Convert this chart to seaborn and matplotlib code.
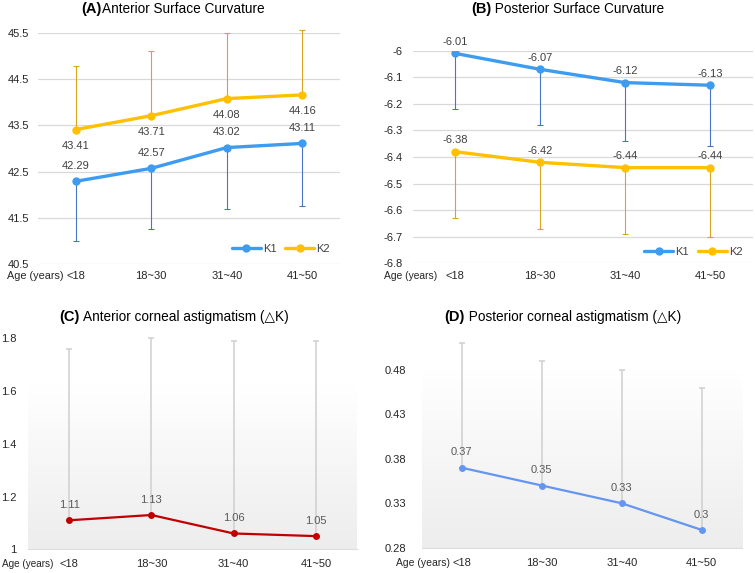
import matplotlib
matplotlib.use("Agg")
import matplotlib.pyplot as plt
import seaborn as sns
import numpy as np
import pandas as pd

ages = ["<18", "18~30", "31~40", "41~50"]

ant_k1 = [42.29, 42.57, 43.02, 43.11]
ant_k1_sd = [1.29, 1.31, 1.33, 1.35]
ant_k2 = [43.41, 43.71, 44.08, 44.16]
ant_k2_sd = [1.38, 1.41, 1.41, 1.40]

post_k1 = [-6.01, -6.07, -6.12, -6.13]
post_k1_sd = [0.21, 0.21, 0.22, 0.23]
post_k2 = [-6.38, -6.42, -6.44, -6.44]
post_k2_sd = [0.25, 0.25, 0.25, 0.26]

ant_dk = [1.11, 1.13, 1.06, 1.05]
ant_dk_sd = [0.65, 0.67, 0.73, 0.74]
post_dk = [0.37, 0.35, 0.33, 0.30]
post_dk_sd = [0.14, 0.14, 0.15, 0.16]

sns.set_style("white")
plt.rcParams["font.family"] = ["Liberation Sans", "DejaVu Sans"]

W, H = 755, 573
fig = plt.figure(figsize=(W / 100, H / 100), dpi=100)


def box(left, right, top, bottom):
    return [left / W, 1 - bottom / H, (right - left) / W, (bottom - top) / H]


BLUE = "#3d9cf0"
GOLD = "#ffc000"
LBL = "#404040"
TXT = "#262626"


def style_axes(ax, ylim, yticks, fmt, ypad, xpad, grid=True):
    ax.set_xlim(-0.5, 3.5)
    ax.set_ylim(*ylim)
    ax.set_yticks(yticks)
    ax.set_yticklabels([fmt(v) for v in yticks])
    ax.set_xticks(range(4))
    ax.set_xticklabels(ages)
    ax.tick_params(length=0, labelsize=8, colors=TXT)
    ax.tick_params(axis="x", pad=xpad)
    ax.tick_params(axis="y", pad=ypad)
    for s in ax.spines.values():
        s.set_visible(False)
    if grid:
        ax.yaxis.grid(True, color="#d9d9d9", lw=0.9)
    else:
        ax.spines["bottom"].set_visible(True)
        ax.spines["bottom"].set_color("#dcdcdc")
        ax.spines["bottom"].set_linewidth(0.8)
    ax.set_axisbelow(True)
    ax.set_xlabel("")
    ax.set_ylabel("")


def age_label(ax, x, size):
    # left edge in figure pixels, vertically in line with the x tick labels
    tl = ax.get_xticklabels()[0]
    fig.canvas.draw()
    bb = tl.get_window_extent()
    yc = (bb.y0 + bb.y1) / 2 / fig.bbox.height
    fig.text(x / W, yc, "Age (years)", fontsize=size, color=TXT,
             ha="left", va="center")


def gradient(ax, top):
    grad = np.linspace(0, 1, 200).reshape(-1, 1)
    cmap = matplotlib.colors.LinearSegmentedColormap.from_list("g", ["#ffffff", "#ededed"])
    ax.imshow(grad, extent=(0, 1, 0, top), transform=ax.transAxes, aspect="auto",
              cmap=cmap, vmin=0, vmax=1, zorder=0)


def labels(ax, vals, dy, color, fmt):
    for i, v in enumerate(vals):
        ax.annotate(fmt(v), (i, v), xytext=(0, dy), textcoords="offset points",
                    ha="center", va="center", fontsize=8, color=color)


# (A) anterior surface curvature
axA = fig.add_axes(box(38, 340, 33, 264))
dfA = pd.DataFrame({"age": ages * 2, "val": ant_k1 + ant_k2,
                    "k": ["K1"] * 4 + ["K2"] * 4})
axA.errorbar(range(4), ant_k1, yerr=[ant_k1_sd, [0] * 4], fmt="none",
             ecolor="#4a74c4", elinewidth=0.8, capsize=2, capthick=0.8, clip_on=False)
axA.errorbar(range(4), ant_k2, yerr=[[0] * 4, ant_k2_sd], fmt="none",
             ecolor="#d9a520", elinewidth=0.8, capsize=2, capthick=0.8, clip_on=False)
sns.lineplot(data=dfA, x="age", y="val", hue="k", palette=[BLUE, GOLD], marker="o",
             markersize=6, markeredgewidth=0, lw=2.4, ax=axA, zorder=3)
style_axes(axA, (40.5, 45.5), [40.5, 41.5, 42.5, 43.5, 44.5, 45.5],
           lambda v: f"{v:.1f}", ypad=6.5, xpad=5)
labels(axA, ant_k1, 11, LBL, lambda v: f"{v:.2f}")
labels(axA, ant_k2, -11.5, LBL, lambda v: f"{v:.2f}")
axA.legend(loc="center right", bbox_to_anchor=(1.0, 0.065), ncol=2, frameon=False,
           fontsize=8, handlelength=2.6, columnspacing=0.8, handletextpad=0.2,
           labelcolor="#404040")

# (B) posterior surface curvature
axB = fig.add_axes(box(412.5, 752.5, 50.7, 263.3))
dfB = pd.DataFrame({"age": ages * 2, "val": post_k1 + post_k2,
                    "k": ["K1"] * 4 + ["K2"] * 4})
axB.errorbar(range(4), post_k1, yerr=[post_k1_sd, [0] * 4], fmt="none",
             ecolor="#4a74c4", elinewidth=0.8, capsize=2, capthick=0.8)
axB.errorbar(range(4), post_k2, yerr=[post_k2_sd, [0] * 4], fmt="none",
             ecolor="#d9a520", elinewidth=0.8, capsize=2, capthick=0.8)
sns.lineplot(data=dfB, x="age", y="val", hue="k", palette=[BLUE, GOLD], marker="o",
             markersize=6, markeredgewidth=0, lw=2.4, ax=axB, zorder=3)
style_axes(axB, (-6.8, -6.0), [-6.8, -6.7, -6.6, -6.5, -6.4, -6.3, -6.2, -6.1, -6.0],
           lambda v: f"{v:g}", ypad=7, xpad=5.5)
labels(axB, post_k1, 8, LBL, lambda v: f"{v:.2f}")
labels(axB, post_k2, 8.5, LBL, lambda v: f"{v:.2f}")
axB.legend(loc="center right", bbox_to_anchor=(1.0, 0.055), ncol=2, frameon=False,
           fontsize=8, handlelength=2.6, columnspacing=0.8, handletextpad=0.2,
           labelcolor="#404040")

# (C) anterior corneal astigmatism
axC = fig.add_axes(box(28, 357, 338.3, 549.3))
gradient(axC, 0.78)
dfC = pd.DataFrame({"age": ages, "val": ant_dk})
axC.errorbar(range(4), ant_dk, yerr=[[0] * 4, ant_dk_sd], fmt="none",
             ecolor="#cfcfcf", elinewidth=1.1, capsize=2, capthick=1.1, clip_on=False)
sns.lineplot(data=dfC, x="age", y="val", color="#c00000", marker="o", markersize=5,
             markeredgewidth=0, lw=1.6, ax=axC, zorder=3)
style_axes(axC, (1.0, 1.8), [1.0, 1.2, 1.4, 1.6, 1.8], lambda v: f"{v:g}",
           ypad=8.5, xpad=7, grid=False)
labels(axC, ant_dk, 11, "#595959", lambda v: f"{v:g}")

# (D) posterior corneal astigmatism
axD = fig.add_axes(box(421.7, 741.7, 370, 547.7))
gradient(axD, 1.0)
dfD = pd.DataFrame({"age": ages, "val": post_dk})
axD.errorbar(range(4), post_dk, yerr=[[0] * 4, post_dk_sd], fmt="none",
             ecolor="#cfcfcf", elinewidth=1.1, capsize=2, capthick=1.1, clip_on=False)
sns.lineplot(data=dfD, x="age", y="val", color="#6495f0", marker="o", markersize=5,
             markeredgewidth=0, lw=1.6, ax=axD, zorder=3)
style_axes(axD, (0.28, 0.48), [0.28, 0.33, 0.38, 0.43, 0.48], lambda v: f"{v:.2f}",
           ypad=11, xpad=7.5, grid=False)
labels(axD, post_dk, 11, "#595959", lambda v: f"{v:g}")

age_label(axA, 7, 7.8)
age_label(axB, 384, 7.4)
age_label(axC, 2, 7.2)
age_label(axD, 396, 7.5)


def title(x, y, tag, text):
    fig.text(x / W, 1 - y / H, tag, fontsize=10.5, fontweight="bold",
             ha="right", va="center", color="black")
    fig.text(x / W, 1 - y / H, text, fontsize=9.8, ha="left", va="center",
             color="black")


title(102, 9, "(A)", "Anterior Surface Curvature")
title(491, 9, "(B)", " Posterior Surface Curvature")
title(80, 317, "(C)", " Anterior corneal astigmatism (\u25b3K)")
title(465, 317, "(D)", " Posterior corneal astigmatism (\u25b3K)")

fig.savefig("out.png", dpi=100)
